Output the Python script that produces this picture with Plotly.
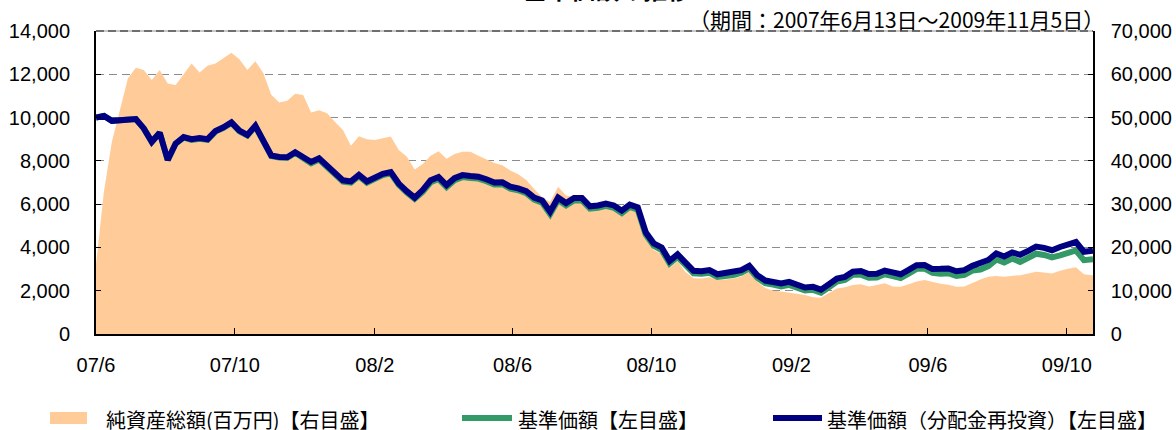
import pandas as pd
import plotly.graph_objects as go

# ---- data (weekly samples) ----
dates = list(pd.date_range("2007-06-13", periods=126, freq="7D").strftime("%Y-%m-%d")) + ["2009-11-05"]

nav_reinvest = [
    10000, 10080, 9850, 9870, 9930, 9930, 9500, 8880, 9300, 8040,
    8800, 9100, 9000, 9050, 9000, 9380, 9550, 9780, 9400, 9200,
    9620, 8900, 8250, 8180, 8170, 8400, 8200, 7950, 8120, 7750,
    7420, 7100, 7050, 7350, 7050, 7250, 7400, 7480, 6950, 6600,
    6300, 6650, 7100, 7250, 6880, 7200, 7340, 7300, 7270, 7150,
    7000, 7010, 6810, 6730, 6600, 6300, 6170, 5650, 6300, 6050,
    6280, 6280, 5900, 5940, 6030, 5940, 5700, 5980, 5850, 4700,
    4190, 4000, 3380, 3680, 3250, 2920, 2900, 2950, 2760, 2800,
    2840, 2950, 3150, 2720, 2470, 2400, 2340, 2410, 2270, 2150,
    2180, 2050, 2300, 2560, 2640, 2880, 2910, 2770, 2780, 2930,
    2850, 2760, 2960, 3180, 3190, 3000, 3010, 3030, 2900, 2950,
    3150, 3260, 3420, 3720, 3580, 3770, 3660, 3840, 4040, 3980,
    3870, 4020, 4150, 4250, 3800, 3850, 3850,
]

nav = [
    10000, 10080, 9850, 9870, 9930, 9930, 9500, 8880, 9300, 8040,
    8800, 9070, 8970, 9020, 8970, 9350, 9520, 9750, 9370, 9170,
    9590, 8870, 8220, 8150, 8140, 8370, 8140, 7890, 8060, 7690,
    7360, 7040, 6990, 7290, 6990, 7190, 7340, 7420, 6890, 6540,
    6240, 6560, 7010, 7160, 6790, 7110, 7250, 7210, 7180, 7060,
    6910, 6920, 6720, 6640, 6510, 6210, 6060, 5540, 6190, 5940,
    6170, 6170, 5790, 5830, 5920, 5830, 5590, 5870, 5740, 4590,
    4080, 3880, 3260, 3560, 3130, 2800, 2780, 2830, 2640, 2680,
    2720, 2830, 3030, 2600, 2350, 2280, 2200, 2270, 2130, 2010,
    2040, 1910, 2160, 2420, 2500, 2740, 2740, 2600, 2610, 2760,
    2680, 2590, 2790, 3010, 3020, 2830, 2790, 2810, 2680, 2730,
    2930, 2980, 3140, 3440, 3300, 3490, 3330, 3510, 3710, 3650,
    3540, 3630, 3760, 3860, 3410, 3460, 3460,
]

net_assets = [
    16000, 33000, 44500, 52000, 59000, 61500, 61000, 58700, 61000, 57900,
    57500, 60000, 62500, 60400, 62000, 62500, 63800, 65000, 63500, 61000,
    63000, 60300, 55300, 53500, 53900, 55500, 55200, 51200, 51700, 51000,
    49000, 47100, 43500, 45700, 45000, 44800, 45200, 45600, 42500, 41000,
    38000, 39300, 41200, 42200, 40500, 41600, 42100, 42100, 41200, 40400,
    39500, 39000, 37800, 36900, 35600, 33500, 31600, 30500, 34000, 32000,
    31600, 31300, 30300, 29400, 29100, 28700, 27800, 29300, 28700, 23000,
    19400, 18500, 15300, 16800, 14300, 12900, 12800, 13100, 12600, 12600,
    12800, 13300, 14300, 12100, 10600, 10000, 9800, 9500, 9300, 9000,
    8500, 8400, 9500, 10500, 10800, 11300, 11500, 11000, 11300, 11700,
    11000, 10900, 11500, 12100, 12500, 12000, 11600, 11400, 10900, 11000,
    11800, 12600, 13200, 13400, 13200, 13400, 13600, 14000, 14400, 14200,
    14000, 14600, 15100, 15400, 13800, 13600, 13600,
]

tick_dates = ["2007-06-13", "2007-10-13", "2008-02-13", "2008-06-13",
              "2008-10-13", "2009-02-13", "2009-06-13", "2009-10-13"]
tick_labels = ["07/6", "07/10", "08/2", "08/6", "08/10", "09/2", "09/6", "09/10"]

title_text = "基準価額の推移"
period_text = "（期間：2007年6月13日～2009年11月5日）"
legend_labels = ["純資産総額(百万円)【右目盛】", "基準価額【左目盛】", "基準価額（分配金再投資）【左目盛】"]

# ---- styling ----
W, H = 1176, 430
L, R, T, B = 96, 1093, 31, 334
ORANGE = "#FFCC99"
GREEN = "#339966"
NAVY = "#000080"
LATIN = "Liberation Sans, Arial, Noto Sans CJK JP"
CJK = "Noto Sans CJK JP, Liberation Sans"


def px(x):
    return (x - L) / (R - L)


def py(y):
    return (B - y) / (B - T)


fig = go.Figure()
fig.add_trace(go.Scatter(x=dates, y=net_assets, yaxis="y", mode="lines",
                         line=dict(width=0, color=ORANGE), fill="tozeroy",
                         fillcolor=ORANGE, name=legend_labels[0], showlegend=False))
fig.add_trace(go.Scatter(x=dates, y=nav, yaxis="y2", mode="lines",
                         line=dict(width=6, color=GREEN), name=legend_labels[1],
                         showlegend=False))
fig.add_trace(go.Scatter(x=dates, y=nav_reinvest, yaxis="y2", mode="lines",
                         line=dict(width=6, color=NAVY), name=legend_labels[2],
                         showlegend=False))

axis_font = dict(family=LATIN, size=20, color="black")

fig.update_layout(
    width=W, height=H,
    margin=dict(l=L, r=W - R, t=T, b=H - B, pad=0, autoexpand=False),
    paper_bgcolor="white", plot_bgcolor="white",
    showlegend=False,
    xaxis=dict(type="date", range=["2007-06-13", "2009-11-05"],
               tickvals=tick_dates, ticktext=tick_labels,
               ticks="inside", ticklen=6, tickwidth=1, tickcolor="black",
               showline=True, linecolor="black", linewidth=2,
               showgrid=False, zeroline=False, tickfont=axis_font,
               ticklabelstandoff=12, automargin=False),
    yaxis=dict(side="right", range=[0, 70000], dtick=10000, tickformat=",",
               ticks="inside", ticklen=5, tickcolor="black",
               showline=True, linecolor="black", linewidth=1.5,
               showgrid=True, gridcolor="#8c8c8c", gridwidth=1, griddash="8px,5px",
               zeroline=False, tickfont=axis_font, ticklabelstandoff=12,
               automargin=False),
    yaxis2=dict(side="left", overlaying="y", range=[0, 14000], dtick=2000,
                tickformat=",", ticks="inside", ticklen=5, tickcolor="black",
                showline=True, linecolor="black", linewidth=2,
                showgrid=False, zeroline=False, tickfont=axis_font,
                ticklabelstandoff=20, automargin=False),
)

shapes = [
    dict(type="line", xref="paper", yref="paper", x0=0, x1=1, y0=1, y1=1,
         line=dict(color="#c8c8c8", width=2)),
    dict(type="line", xref="paper", yref="paper", x0=0, x1=1, y0=1, y1=1,
         line=dict(color="#6e6e6e", width=2, dash="8px,4px")),
    # legend symbols
    dict(type="rect", xref="paper", yref="paper", x0=px(50), x1=px(87),
         y0=py(424), y1=py(412), fillcolor=ORANGE, line=dict(width=0)),
    dict(type="line", xref="paper", yref="paper", x0=px(462), x1=px(512),
         y0=py(418), y1=py(418), line=dict(color=GREEN, width=6)),
    dict(type="line", xref="paper", yref="paper", x0=px(773), x1=px(822),
         y0=py(418), y1=py(418), line=dict(color=NAVY, width=6)),
]
fig.update_layout(shapes=shapes)

annotations = [
    dict(text="<b>" + title_text + "</b>", xref="paper", yref="paper",
         x=px(607), y=py(8), xanchor="center", yanchor="bottom", showarrow=False,
         font=dict(family=CJK, size=24, color="black")),
    dict(text=period_text, xref="paper", yref="paper", x=px(1106), y=py(19),
         xanchor="right", yanchor="middle", showarrow=False,
         font=dict(family=CJK, size=21, color="black")),
    dict(text=legend_labels[0], xref="paper", yref="paper", x=px(104), y=py(419),
         xanchor="left", yanchor="middle", showarrow=False,
         font=dict(family=CJK, size=20, color="black")),
    dict(text=legend_labels[1], xref="paper", yref="paper", x=px(516), y=py(419),
         xanchor="left", yanchor="middle", showarrow=False,
         font=dict(family=CJK, size=20, color="black")),
    dict(text=legend_labels[2], xref="paper", yref="paper", x=px(825), y=py(419),
         xanchor="left", yanchor="middle", showarrow=False,
         font=dict(family=CJK, size=20, color="black")),
]
fig.update_layout(annotations=annotations)

fig.write_html("out.html",
               config={"displayModeBar": False},
               post_script="document.body.style.margin='0';document.body.style.overflow='hidden';")
